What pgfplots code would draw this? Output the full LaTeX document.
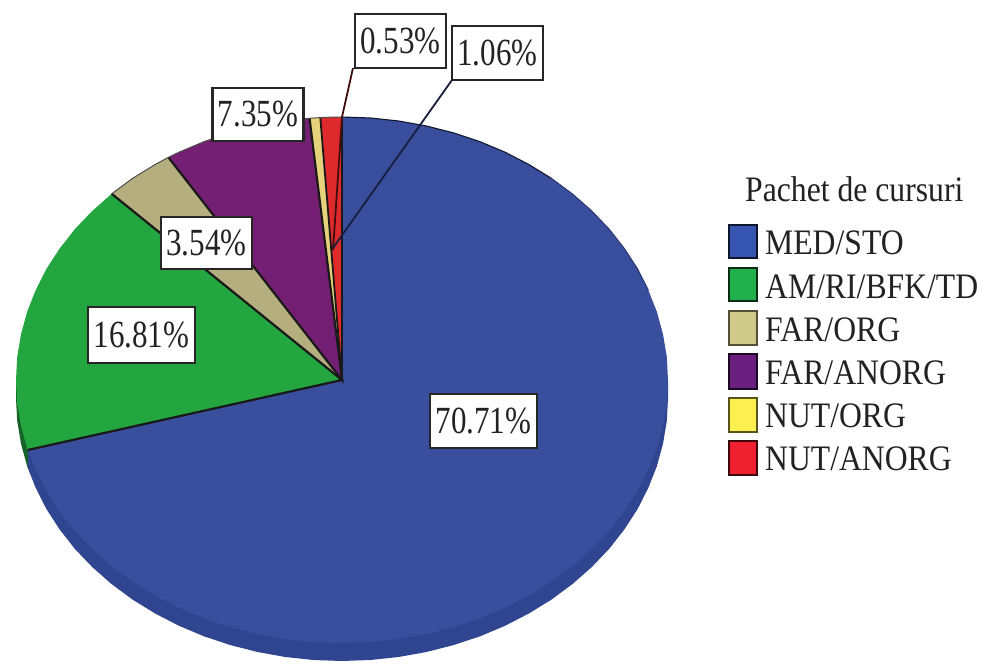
\documentclass[border=0pt]{standalone}
\usepackage{graphicx}
\usepackage{pgfplots}
\pgfplotsset{compat=1.18}
\usepackage{fontspec}
\setmainfont{Liberation Serif}
\definecolor{cBlue}{HTML}{3A4E9E}
\definecolor{cRim}{HTML}{30458F}
\definecolor{cGreen}{HTML}{23A53F}
\definecolor{cTan}{HTML}{B5AE7E}
\definecolor{cPurple}{HTML}{751F74}
\definecolor{cYellow}{HTML}{E6D27A}
\definecolor{cRed}{HTML}{DF2A2D}
\definecolor{lBlue}{HTML}{3555B0}
\definecolor{lGreen}{HTML}{22B04C}
\definecolor{lTan}{HTML}{CFC98A}
\definecolor{lPurple}{HTML}{6A1F80}
\definecolor{lYellow}{HTML}{FBF050}
\definecolor{lRed}{HTML}{EF2030}
\definecolor{txt}{HTML}{222222}
\tikzset{
  box/.style={draw=black!85, line width=2.2pt, fill=white, text=txt, inner sep=0pt,
    outer sep=0pt, font=\fontsize{32}{36}\selectfont, anchor=center},
  lab/.style={text=txt, inner sep=0pt, anchor=west, font=\fontsize{32}{36}\selectfont},
}
\newcommand{\bx}[1]{\scalebox{.97}[1.2]{#1}}
\newcommand{\lb}[1]{\scalebox{.99}[1.12]{#1}}
\begin{document}
\begin{tikzpicture}
\begin{axis}[
  scale only axis, width=981pt, height=663pt,
  xmin=0, xmax=981, ymin=0, ymax=663, y dir=reverse,
  hide axis, clip=true,
  every axis plot/.append style={mark=none},
]
% page extent
\addplot[fill=white, draw=none] coordinates {(0,0)(981,0)(981,663)(0,663)} --cycle;
% rim, blue
\addplot[fill=cRim, draw=none] coordinates {
(668,380)(668,398)(666.8,420.9)(663,443.7)(656.9,466.1)(648.3,487.9)(637.5,509.2)(624.3,529.5)(609.1,548.9)(591.7,567.1)(572.5,584)(551.6,599.5)(529,613.4)(505,625.8)(479.8,636.4)(453.5,645.1)(426.4,652)(398.6,657)(370.4,660)(342,661)(313.6,660)(285.4,657)(257.6,652)(230.5,645.1)(204.2,636.4)(179,625.8)(155,613.4)(132.4,599.5)(111.5,584)(92.3,567.1)(74.9,548.9)(59.7,529.5)(46.5,509.2)(35.7,487.9)(27.8,468)(27.8,450)
} --cycle;
% rim, green
\addplot[fill=black!40!cGreen, draw=none] coordinates {
(27.8,450)(27.8,468)(27.1,466.1)(21,443.7)(17.2,420.9)(16,398)(16,380)
} --cycle;
% MED/STO 70.71
\addplot[fill=cBlue, draw=none] coordinates {
(342,380)(342,117)(370.4,118)(398.6,121)(426.4,126)(453.5,132.9)(479.8,141.6)(505,152.2)(529,164.6)(551.6,178.5)(572.5,194)(591.7,210.9)(609.1,229.1)(624.3,248.5)(637.5,268.8)(648.3,290.1)(656.9,311.9)(663,334.3)(666.8,357.1)(668,380)(666.8,402.9)(663,425.7)(656.9,448.1)(648.3,469.9)(637.5,491.2)(624.3,511.5)(609.1,530.9)(591.7,549.1)(572.5,566)(551.6,581.5)(529,595.4)(505,607.8)(479.8,618.4)(453.5,627.1)(426.4,634)(398.6,639)(370.4,642)(342,643)(313.6,642)(285.4,639)(257.6,634)(230.5,627.1)(204.2,618.4)(179,607.8)(155,595.4)(132.4,581.5)(111.5,566)(92.3,549.1)(74.9,530.9)(59.7,511.5)(46.5,491.2)(35.7,469.9)(27.8,450)
} --cycle;
% top arc of the blue slice
\addplot[draw=black!30!cBlue, line width=1pt] coordinates {
(551.6,178.5)(572.5,194)(591.7,210.9)(609.1,229.1)(624.3,248.5)(637.5,268.8)(648.3,290.1)
};
\addplot[draw=black!70!cBlue, line width=1.1pt] coordinates {
(342,117)(370.4,118)(398.6,121)(426.4,126)(453.5,132.9)(479.8,141.6)(505,152.2)(529,164.6)(551.6,178.5)
};
% AM/RI/BFK/TD 16.81
\addplot[fill=cGreen, draw=none] coordinates {
(342,380)(27.8,450)(27.1,448.1)(21,425.7)(17.2,402.9)(16,380)(17.2,357.1)(21,334.3)(27.1,311.9)(35.7,290.1)(46.5,268.8)(59.7,248.5)(74.9,229.1)(92.3,210.9)(111.7,193.8)
} --cycle;
% FAR/ORG 3.54
\addplot[fill=cTan, draw=none] coordinates {
(342,380)(111.7,193.8)(132.4,178.5)(155,164.6)(168.4,157.4)
} --cycle;
% FAR/ANORG 7.35
\addplot[fill=cPurple, draw=none] coordinates {
(342,380)(168.4,157.4)(179,152.2)(204.2,141.6)(230.5,132.9)(257.6,126)(285.4,121)(309.5,118.3)
} --cycle;
% NUT/ORG 0.53
\addplot[fill=cYellow, draw=none] coordinates {
(342,380)(309.5,118.3)(320.3,117.6)
} --cycle;
% NUT/ANORG 1.06
\addplot[fill=cRed, draw=none] coordinates {
(342,380)(320.3,117.6)(330.6,117.2)(342,117)
} --cycle;
% slice edges
\addplot[draw=black!90, line width=2.2pt] coordinates {(27.8,450)(342,380)(111.7,193.8)};
\addplot[draw=black!90, line width=2.2pt] coordinates {(168.4,157.4)(342,380)(309.5,118.3)};
\addplot[draw=black!90, line width=1.8pt] coordinates {(320.3,117.6)(342,380)(342,117)};
% outer arc, left part
\addplot[draw=black!70, line width=1pt] coordinates {(111.7,193.8)(132.4,178.5)(155,164.6)(168.4,157.4)(179,152.2)(204.2,141.6)(230.5,132.9)(257.6,126)(285.4,121)(309.5,118.3)(320.3,117.6)(330.6,117.2)(342,117)};
% leaders
\addplot[draw=black!70!cRed, line width=1.8pt] coordinates {(353,68)(342,117)(333,250)};
\addplot[draw=black!60!cBlue, line width=1.8pt] coordinates {(452,80)(333,248)};
% label boxes
\node[box, minimum width=91pt, minimum height=54pt] at (axis cs:400.5,41) {\bx{0.53\%}};
\node[box, minimum width=91pt, minimum height=54pt] at (axis cs:497.5,53) {\bx{1.06\%}};
\node[box, minimum width=91pt, minimum height=53pt] at (axis cs:258,114.5) {\bx{7.35\%}};
\node[box, minimum width=91pt, minimum height=52pt] at (axis cs:206.5,243) {\bx{3.54\%}};
\node[box, minimum width=107pt, minimum height=56pt] at (axis cs:141.5,335) {\bx{16.81\%}};
\node[box, minimum width=107pt, minimum height=54pt] at (axis cs:483.5,421) {\bx{70.71\%}};
% legend
\node[lab, font=\fontsize{32}{36}\selectfont] at (axis cs:745,189) {\lb{Pachet de cursuri}};
\addplot[fill=lBlue, draw=black!75!lBlue, line width=2.5pt] coordinates {(729,225)(757,225)(757,258)(729,258)} --cycle;
\addplot[fill=lGreen, draw=black!75!lGreen, line width=2.5pt] coordinates {(729,268)(757,268)(757,301)(729,301)} --cycle;
\addplot[fill=lTan, draw=black!60!lTan, line width=2.5pt] coordinates {(729,311)(757,311)(757,345)(729,345)} --cycle;
\addplot[fill=lPurple, draw=black!75!lPurple, line width=2.5pt] coordinates {(729,354)(757,354)(757,389)(729,389)} --cycle;
\addplot[fill=lYellow, draw=black!65!lYellow, line width=2.5pt] coordinates {(729,398)(757,398)(757,432)(729,432)} --cycle;
\addplot[fill=lRed, draw=black!75!lRed, line width=2.5pt] coordinates {(729,441)(757,441)(757,475)(729,475)} --cycle;
\node[lab] at (axis cs:765,243) {\lb{MED/STO}};
\node[lab] at (axis cs:765,287) {\lb{AM/RI/BFK/TD}};
\node[lab] at (axis cs:765,330) {\lb{FAR/ORG}};
\node[lab] at (axis cs:765,373) {\lb{FAR/ANORG}};
\node[lab] at (axis cs:765,416) {\lb{NUT/ORG}};
\node[lab] at (axis cs:765,459) {\lb{NUT/ANORG}};
\end{axis}
\end{tikzpicture}
\end{document}
